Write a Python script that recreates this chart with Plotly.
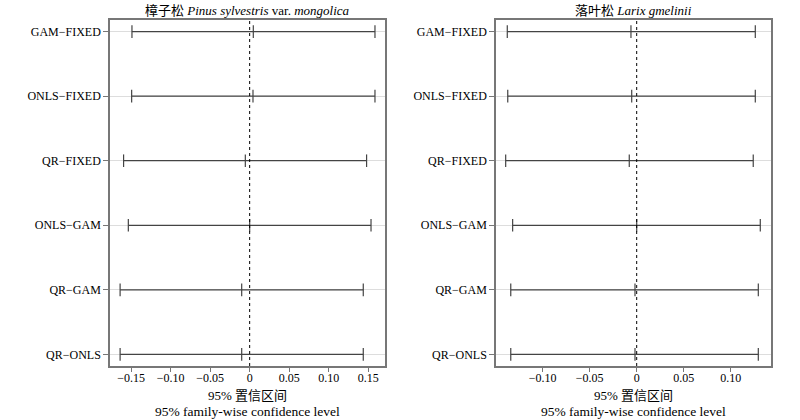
import plotly.graph_objects as go
from plotly.subplots import make_subplots

comparisons = ["QR−ONLS", "QR−GAM", "ONLS−GAM", "QR−FIXED", "ONLS−FIXED", "GAM−FIXED"]

# 樟子松 Pinus sylvestris var. mongolica
left_est = [-0.0101, -0.0101, 0.0, -0.0055, 0.0042, 0.0046]
left_lwr = [-0.164, -0.164, -0.1536, -0.1596, -0.1494, -0.149]
left_upr = [0.1438, 0.1438, 0.1536, 0.148, 0.1586, 0.1586]

# 落叶松 Larix gmelinii
right_est = [-0.0018, -0.0018, 0.0, -0.0079, -0.0053, -0.0061]
right_lwr = [-0.134, -0.134, -0.132, -0.1394, -0.1372, -0.1377]
right_upr = [0.1294, 0.1294, 0.1315, 0.124, 0.1262, 0.1262]

left_ticks = [-0.15, -0.10, -0.05, 0, 0.05, 0.10, 0.15]
left_ticktext = ["−0.15", "−0.10", "−0.05", "0", "0.05", "0.10", "0.15"]
right_ticks = [-0.15, -0.10, -0.05, 0, 0.05, 0.10]
right_ticktext = ["−0.15", "−0.10", "−0.05", "0", "0.05", "0.10"]

titles = ["樟子松 <i>Pinus sylvestris</i> var. <i>mongolica</i>",
          "落叶松 <i>Larix gmelinii</i>"]
xlab1 = "95% 置信区间"
xlab2 = "95% family-wise confidence level"

FONT = "'Liberation Serif', 'Times New Roman', 'Noto Sans CJK SC', serif"
LINE_COL = "#444444"

fig = make_subplots(rows=1, cols=2, horizontal_spacing=0.168)

rows = list(range(1, len(comparisons) + 1))
panels = [(left_est, left_lwr, left_upr), (right_est, right_lwr, right_upr)]
for c, (est, lwr, upr) in enumerate(panels, start=1):
    for i, r in enumerate(rows):
        fig.add_trace(go.Scatter(
            x=[lwr[i], est[i], upr[i]], y=[r, r, r],
            mode="lines+markers",
            line=dict(color=LINE_COL, width=1.2),
            marker=dict(symbol="line-ns-open", size=9,
                        line=dict(color=LINE_COL, width=1.2), color=LINE_COL),
            showlegend=False, hoverinfo="skip"), row=1, col=c)
    fig.add_shape(type="line", x0=0, x1=0, y0=0, y1=1,
                  xref=f"x{'' if c == 1 else c}", yref=f"y{'' if c == 1 else c} domain",
                  line=dict(color="black", width=1, dash="dot"))

axis_common = dict(showline=True, mirror=True, linecolor="#777777", linewidth=1.5,
                   ticks="outside", tickcolor="#777777",
                   tickfont=dict(family=FONT, size=12, color="black"), zeroline=False)

fig.update_xaxes(**axis_common, ticklen=4, showgrid=False, ticklabelstandoff=-4)
fig.update_yaxes(**axis_common, ticklen=5,
                 showgrid=True, gridcolor="#dddddd", gridwidth=1,
                 tickvals=rows, ticktext=comparisons, range=[0.82, 6.18])

fig.update_xaxes(range=[-0.1768, 0.1713], tickvals=left_ticks, ticktext=left_ticktext, row=1, col=1)
fig.update_xaxes(range=[-0.1497, 0.1429], tickvals=right_ticks, ticktext=right_ticktext, row=1, col=2)

for idx, dom in enumerate([(0, 275 / 661), (386 / 661, 1.0)]):
    xc = (dom[0] + dom[1]) / 2
    fig.add_annotation(text=titles[idx], x=xc, y=1, xref="paper", yref="paper",
                       xanchor="center", yanchor="middle", yshift=10, showarrow=False,
                       font=dict(family=FONT, size=13, color="black"))
    fig.add_annotation(text=xlab1, x=xc, y=0, xref="paper", yref="paper",
                       xanchor="center", yanchor="middle", yshift=-29, showarrow=False,
                       font=dict(family=FONT, size=13, color="black"))
    fig.add_annotation(text=xlab2, x=xc, y=0, xref="paper", yref="paper",
                       xanchor="center", yanchor="middle", yshift=-45, showarrow=False,
                       font=dict(family=FONT, size=13.5, color="black"))

fig.update_layout(width=800, height=420,
                  margin=dict(l=110, r=29, t=20, b=54),
                  plot_bgcolor="white", paper_bgcolor="white",
                  font=dict(family=FONT, size=12, color="black"))
fig.layout.xaxis.domain = [0, 275 / 661]
fig.layout.xaxis2.domain = [386 / 661, 1.0]

fig.write_html("out.html", config={"displayModeBar": False},
               post_script="document.body.style.margin='0';document.body.style.overflow='hidden';")
